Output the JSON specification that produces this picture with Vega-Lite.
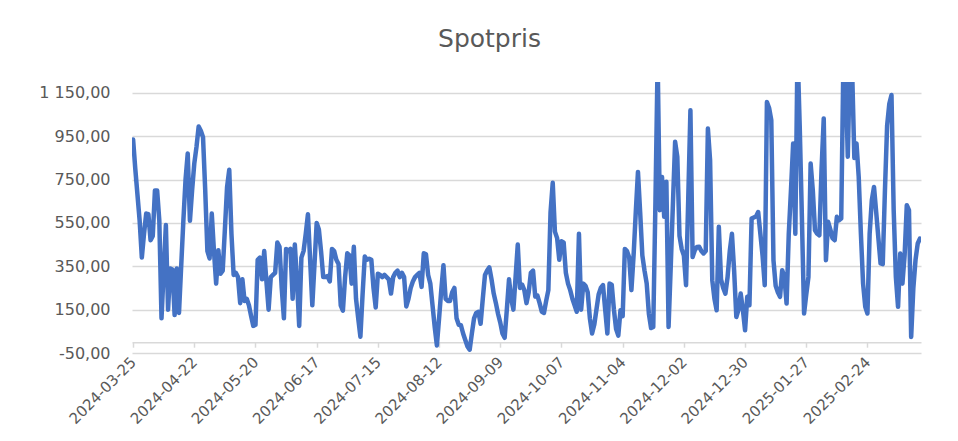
{
"$schema": "https://vega.github.io/schema/vega-lite/v6.json",
"width": 789, "height": 271,
"autosize": {"type": "none"},
"padding": {"left": 132, "top": 82, "right": 37, "bottom": 88},
"background": "white",
"config": {"view": {"stroke": null}, "font": "DejaVu Sans"},
"title": {"text": "Spotpris", "fontSize": 25, "fontWeight": "normal", "color": "#595959", "font": "DejaVu Sans", "anchor": "middle", "dx": -37, "offset": 10, "baseline": "alphabetic"},
"data": {"values": [
{"date":"2024-03-25","price":935},{"date":"2024-03-26","price":800},{"date":"2024-03-27","price":680},{"date":"2024-03-28","price":560},{"date":"2024-03-29","price":390},{"date":"2024-03-30","price":500},{"date":"2024-03-31","price":593},
{"date":"2024-04-01","price":590},{"date":"2024-04-02","price":470},{"date":"2024-04-03","price":490},{"date":"2024-04-04","price":700},{"date":"2024-04-05","price":700},{"date":"2024-04-06","price":560},{"date":"2024-04-07","price":110},{"date":"2024-04-08","price":330},{"date":"2024-04-09","price":540},{"date":"2024-04-10","price":150},{"date":"2024-04-11","price":340},{"date":"2024-04-12","price":335},{"date":"2024-04-13","price":125},{"date":"2024-04-14","price":340},{"date":"2024-04-15","price":135},{"date":"2024-04-16","price":350},{"date":"2024-04-17","price":560},{"date":"2024-04-18","price":750},{"date":"2024-04-19","price":870},{"date":"2024-04-20","price":560},{"date":"2024-04-21","price":700},{"date":"2024-04-22","price":824},{"date":"2024-04-23","price":900},{"date":"2024-04-24","price":995},{"date":"2024-04-25","price":975},{"date":"2024-04-26","price":945},{"date":"2024-04-27","price":700},{"date":"2024-04-28","price":420},{"date":"2024-04-29","price":386},{"date":"2024-04-30","price":593},
{"date":"2024-05-01","price":420},{"date":"2024-05-02","price":270},{"date":"2024-05-03","price":424},{"date":"2024-05-04","price":316},{"date":"2024-05-05","price":330},{"date":"2024-05-06","price":520},{"date":"2024-05-07","price":716},{"date":"2024-05-08","price":795},{"date":"2024-05-09","price":500},{"date":"2024-05-10","price":310},{"date":"2024-05-11","price":320},{"date":"2024-05-12","price":300},{"date":"2024-05-13","price":180},{"date":"2024-05-14","price":290},{"date":"2024-05-15","price":190},{"date":"2024-05-16","price":200},{"date":"2024-05-17","price":170},{"date":"2024-05-18","price":120},{"date":"2024-05-19","price":75},{"date":"2024-05-20","price":80},{"date":"2024-05-21","price":380},{"date":"2024-05-22","price":390},{"date":"2024-05-23","price":290},{"date":"2024-05-24","price":420},{"date":"2024-05-25","price":280},{"date":"2024-05-26","price":150},{"date":"2024-05-27","price":300},{"date":"2024-05-28","price":310},{"date":"2024-05-29","price":320},{"date":"2024-05-30","price":460},{"date":"2024-05-31","price":440},
{"date":"2024-06-01","price":250},{"date":"2024-06-02","price":110},{"date":"2024-06-03","price":430},{"date":"2024-06-04","price":420},{"date":"2024-06-05","price":430},{"date":"2024-06-06","price":200},{"date":"2024-06-07","price":450},{"date":"2024-06-08","price":280},{"date":"2024-06-09","price":75},{"date":"2024-06-10","price":390},{"date":"2024-06-11","price":420},{"date":"2024-06-12","price":500},{"date":"2024-06-13","price":590},{"date":"2024-06-14","price":380},{"date":"2024-06-15","price":170},{"date":"2024-06-16","price":360},{"date":"2024-06-17","price":550},{"date":"2024-06-18","price":520},{"date":"2024-06-19","price":420},{"date":"2024-06-20","price":300},{"date":"2024-06-21","price":300},{"date":"2024-06-22","price":305},{"date":"2024-06-23","price":280},{"date":"2024-06-24","price":430},{"date":"2024-06-25","price":420},{"date":"2024-06-26","price":380},{"date":"2024-06-27","price":360},{"date":"2024-06-28","price":170},{"date":"2024-06-29","price":145},{"date":"2024-06-30","price":300},
{"date":"2024-07-01","price":410},{"date":"2024-07-02","price":400},{"date":"2024-07-03","price":270},{"date":"2024-07-04","price":440},{"date":"2024-07-05","price":200},{"date":"2024-07-06","price":110},{"date":"2024-07-07","price":25},{"date":"2024-07-08","price":220},{"date":"2024-07-09","price":395},{"date":"2024-07-10","price":380},{"date":"2024-07-11","price":385},{"date":"2024-07-12","price":380},{"date":"2024-07-13","price":250},{"date":"2024-07-14","price":160},{"date":"2024-07-15","price":316},{"date":"2024-07-16","price":310},{"date":"2024-07-17","price":300},{"date":"2024-07-18","price":310},{"date":"2024-07-19","price":300},{"date":"2024-07-20","price":290},{"date":"2024-07-21","price":224},{"date":"2024-07-22","price":300},{"date":"2024-07-23","price":320},{"date":"2024-07-24","price":330},{"date":"2024-07-25","price":300},{"date":"2024-07-26","price":320},{"date":"2024-07-27","price":300},{"date":"2024-07-28","price":165},{"date":"2024-07-29","price":200},{"date":"2024-07-30","price":250},{"date":"2024-07-31","price":280},
{"date":"2024-08-01","price":300},{"date":"2024-08-02","price":310},{"date":"2024-08-03","price":320},{"date":"2024-08-04","price":255},{"date":"2024-08-05","price":410},{"date":"2024-08-06","price":405},{"date":"2024-08-07","price":310},{"date":"2024-08-08","price":270},{"date":"2024-08-09","price":170},{"date":"2024-08-10","price":70},{"date":"2024-08-11","price":-15},{"date":"2024-08-12","price":110},{"date":"2024-08-13","price":240},{"date":"2024-08-14","price":355},{"date":"2024-08-15","price":200},{"date":"2024-08-16","price":190},{"date":"2024-08-17","price":190},{"date":"2024-08-18","price":230},{"date":"2024-08-19","price":250},{"date":"2024-08-20","price":110},{"date":"2024-08-21","price":80},{"date":"2024-08-22","price":78},{"date":"2024-08-23","price":40},{"date":"2024-08-24","price":10},{"date":"2024-08-25","price":-20},{"date":"2024-08-26","price":-35},{"date":"2024-08-27","price":40},{"date":"2024-08-28","price":110},{"date":"2024-08-29","price":135},{"date":"2024-08-30","price":140},{"date":"2024-08-31","price":85},
{"date":"2024-09-01","price":200},{"date":"2024-09-02","price":310},{"date":"2024-09-03","price":330},{"date":"2024-09-04","price":345},{"date":"2024-09-05","price":290},{"date":"2024-09-06","price":224},{"date":"2024-09-07","price":180},{"date":"2024-09-08","price":130},{"date":"2024-09-09","price":90},{"date":"2024-09-10","price":40},{"date":"2024-09-11","price":20},{"date":"2024-09-12","price":150},{"date":"2024-09-13","price":290},{"date":"2024-09-14","price":200},{"date":"2024-09-15","price":150},{"date":"2024-09-16","price":300},{"date":"2024-09-17","price":450},{"date":"2024-09-18","price":250},{"date":"2024-09-19","price":265},{"date":"2024-09-20","price":240},{"date":"2024-09-21","price":180},{"date":"2024-09-22","price":230},{"date":"2024-09-23","price":320},{"date":"2024-09-24","price":330},{"date":"2024-09-25","price":210},{"date":"2024-09-26","price":215},{"date":"2024-09-27","price":180},{"date":"2024-09-28","price":140},{"date":"2024-09-29","price":135},{"date":"2024-09-30","price":190},
{"date":"2024-10-01","price":240},{"date":"2024-10-02","price":600},{"date":"2024-10-03","price":735},{"date":"2024-10-04","price":510},{"date":"2024-10-05","price":480},{"date":"2024-10-06","price":380},{"date":"2024-10-07","price":465},{"date":"2024-10-08","price":460},{"date":"2024-10-09","price":320},{"date":"2024-10-10","price":270},{"date":"2024-10-11","price":240},{"date":"2024-10-12","price":200},{"date":"2024-10-13","price":170},{"date":"2024-10-14","price":140},{"date":"2024-10-15","price":500},{"date":"2024-10-16","price":150},{"date":"2024-10-17","price":270},{"date":"2024-10-18","price":260},{"date":"2024-10-19","price":230},{"date":"2024-10-20","price":110},{"date":"2024-10-21","price":40},{"date":"2024-10-22","price":80},{"date":"2024-10-23","price":150},{"date":"2024-10-24","price":220},{"date":"2024-10-25","price":250},{"date":"2024-10-26","price":263},{"date":"2024-10-27","price":150},{"date":"2024-10-28","price":40},{"date":"2024-10-29","price":270},{"date":"2024-10-30","price":265},{"date":"2024-10-31","price":150},
{"date":"2024-11-01","price":60},{"date":"2024-11-02","price":30},{"date":"2024-11-03","price":147},{"date":"2024-11-04","price":120},{"date":"2024-11-05","price":430},{"date":"2024-11-06","price":420},{"date":"2024-11-07","price":390},{"date":"2024-11-08","price":240},{"date":"2024-11-09","price":400},{"date":"2024-11-10","price":600},{"date":"2024-11-11","price":785},{"date":"2024-11-12","price":600},{"date":"2024-11-13","price":400},{"date":"2024-11-14","price":330},{"date":"2024-11-15","price":270},{"date":"2024-11-16","price":130},{"date":"2024-11-17","price":65},{"date":"2024-11-18","price":70},{"date":"2024-11-19","price":650},{"date":"2024-11-20","price":1300},{"date":"2024-11-21","price":609},{"date":"2024-11-22","price":762},{"date":"2024-11-23","price":578},{"date":"2024-11-24","price":740},{"date":"2024-11-25","price":70},{"date":"2024-11-26","price":350},{"date":"2024-11-27","price":640},{"date":"2024-11-28","price":924},{"date":"2024-11-29","price":855},{"date":"2024-11-30","price":490},
{"date":"2024-12-01","price":430},{"date":"2024-12-02","price":400},{"date":"2024-12-03","price":263},{"date":"2024-12-04","price":660},{"date":"2024-12-05","price":1070},{"date":"2024-12-06","price":393},{"date":"2024-12-07","price":424},{"date":"2024-12-08","price":439},{"date":"2024-12-09","price":440},{"date":"2024-12-10","price":420},{"date":"2024-12-11","price":409},{"date":"2024-12-12","price":420},{"date":"2024-12-13","price":985},{"date":"2024-12-14","price":839},{"date":"2024-12-15","price":286},{"date":"2024-12-16","price":200},{"date":"2024-12-17","price":147},{"date":"2024-12-18","price":532},{"date":"2024-12-19","price":290},{"date":"2024-12-20","price":250},{"date":"2024-12-21","price":224},{"date":"2024-12-22","price":300},{"date":"2024-12-23","price":420},{"date":"2024-12-24","price":500},{"date":"2024-12-25","price":330},{"date":"2024-12-26","price":116},{"date":"2024-12-27","price":150},{"date":"2024-12-28","price":224},{"date":"2024-12-29","price":150},{"date":"2024-12-30","price":55},{"date":"2024-12-31","price":209},
{"date":"2025-01-01","price":170},{"date":"2025-01-02","price":570},{"date":"2025-01-03","price":575},{"date":"2025-01-04","price":580},{"date":"2025-01-05","price":600},{"date":"2025-01-06","price":500},{"date":"2025-01-07","price":400},{"date":"2025-01-08","price":263},{"date":"2025-01-09","price":1108},{"date":"2025-01-10","price":1080},{"date":"2025-01-11","price":1024},{"date":"2025-01-12","price":378},{"date":"2025-01-13","price":260},{"date":"2025-01-14","price":230},{"date":"2025-01-15","price":209},{"date":"2025-01-16","price":332},{"date":"2025-01-17","price":300},{"date":"2025-01-18","price":178},{"date":"2025-01-19","price":500},{"date":"2025-01-20","price":700},{"date":"2025-01-21","price":916},{"date":"2025-01-22","price":500},{"date":"2025-01-23","price":1350},{"date":"2025-01-24","price":1000},{"date":"2025-01-25","price":578},{"date":"2025-01-26","price":132},{"date":"2025-01-27","price":220},{"date":"2025-01-28","price":301},{"date":"2025-01-29","price":824},{"date":"2025-01-30","price":700},{"date":"2025-01-31","price":516},
{"date":"2025-02-01","price":500},{"date":"2025-02-02","price":493},{"date":"2025-02-03","price":800},{"date":"2025-02-04","price":1032},{"date":"2025-02-05","price":378},{"date":"2025-02-06","price":555},{"date":"2025-02-07","price":520},{"date":"2025-02-08","price":480},{"date":"2025-02-09","price":470},{"date":"2025-02-10","price":578},{"date":"2025-02-11","price":562},{"date":"2025-02-12","price":570},{"date":"2025-02-13","price":1300},{"date":"2025-02-14","price":1250},{"date":"2025-02-15","price":855},{"date":"2025-02-16","price":1300},{"date":"2025-02-17","price":1250},{"date":"2025-02-18","price":850},{"date":"2025-02-19","price":916},{"date":"2025-02-20","price":762},{"date":"2025-02-21","price":500},{"date":"2025-02-22","price":270},{"date":"2025-02-23","price":163},{"date":"2025-02-24","price":132},{"date":"2025-02-25","price":500},{"date":"2025-02-26","price":655},{"date":"2025-02-27","price":716},{"date":"2025-02-28","price":600},
{"date":"2025-03-01","price":480},{"date":"2025-03-02","price":363},{"date":"2025-03-03","price":360},{"date":"2025-03-04","price":700},{"date":"2025-03-05","price":1000},{"date":"2025-03-06","price":1100},{"date":"2025-03-07","price":1140},{"date":"2025-03-08","price":609},{"date":"2025-03-09","price":300},{"date":"2025-03-10","price":163},{"date":"2025-03-11","price":409},{"date":"2025-03-12","price":270},{"date":"2025-03-13","price":400},{"date":"2025-03-14","price":632},{"date":"2025-03-15","price":609},{"date":"2025-03-16","price":24},{"date":"2025-03-17","price":250},{"date":"2025-03-18","price":380},{"date":"2025-03-19","price":455},{"date":"2025-03-20","price":478}
]},
"mark": {"type": "line", "color": "#4472C4", "strokeWidth": 4.5, "strokeJoin": "round", "strokeCap": "round", "clip": true},
"encoding": {
"x": {"field": "date", "type": "temporal",
"scale": {"type": "utc", "domain": [{"year":2024,"month":3,"date":24,"hours":12,"utc":true},{"year":2025,"month":3,"date":20,"hours":12,"utc":true}]},
"axis": {"orient": "bottom", "title": null, "grid": false, "offset": -10.8,
"domain": true, "domainColor": "#d9d9d9", "domainWidth": 1.5,
"ticks": true, "tickSize": 5, "tickColor": "#d9d9d9", "tickWidth": 1.5,
"values": [{"year":2024,"month":3,"date":25,"utc":true},{"year":2024,"month":4,"date":22,"utc":true},{"year":2024,"month":5,"date":20,"utc":true},{"year":2024,"month":6,"date":17,"utc":true},{"year":2024,"month":7,"date":15,"utc":true},{"year":2024,"month":8,"date":12,"utc":true},{"year":2024,"month":9,"date":9,"utc":true},{"year":2024,"month":10,"date":7,"utc":true},{"year":2024,"month":11,"date":4,"utc":true},{"year":2024,"month":12,"date":2,"utc":true},{"year":2024,"month":12,"date":30,"utc":true},{"year":2025,"month":1,"date":27,"utc":true},{"year":2025,"month":2,"date":24,"utc":true}],
"labelExpr": "utcFormat(datum.value, '%Y-%m-%d')",
"labelAngle": -45, "labelAlign": "right", "labelBaseline": "middle", "labelPadding": 12,
"labelFontSize": 15, "labelColor": "#595959", "labelFont": "DejaVu Sans",
"labelOverlap": false, "labelBound": false, "labelFlush": false}},
"y": {"field": "price", "type": "quantitative",
"scale": {"domain": [-50, 1200], "nice": false, "zero": false},
"axis": {"title": null, "domain": false, "ticks": false, "grid": true, "gridColor": "#d9d9d9", "gridWidth": 1.5,
"values": [-50, 150, 350, 550, 750, 950, 1150],
"labelExpr": "replace(replace(replace(format(datum.value, ',.2f'), ',', ' '), '.', ','), '\u2212', '-')",
"labelPadding": 22, "labelFontSize": 16, "labelColor": "#595959", "labelFont": "DejaVu Sans"}}
}
}
